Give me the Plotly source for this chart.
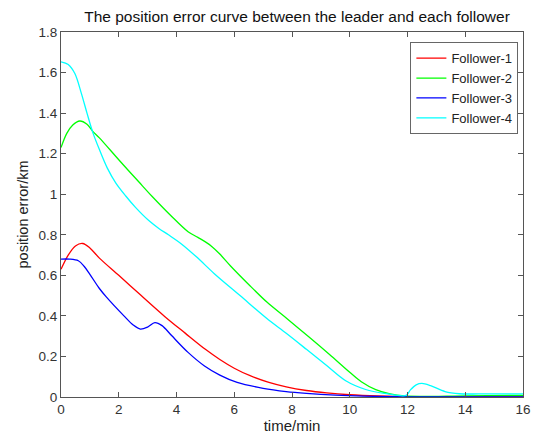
import plotly.graph_objects as go

# Follower-1
t1 = [0, 0.25, 0.5, 0.75, 1.0, 1.33, 2.0, 2.7, 3.61, 4.3, 5.0, 5.5, 6.0, 6.55, 7.2, 7.8, 8.5, 9.2, 10.0, 11.0, 12.0, 14.0, 16.0]
e1 = [0.63, 0.70, 0.745, 0.757, 0.735, 0.685, 0.60, 0.51, 0.395, 0.315, 0.235, 0.185, 0.142, 0.105, 0.072, 0.05, 0.032, 0.02, 0.011, 0.005, 0.002, 0.001, 0.001]

# Follower-2
t2 = [0, 0.2, 0.4, 0.65, 0.9, 1.1, 1.33, 2.0, 2.7, 3.15, 3.8, 4.4, 4.74, 5.0, 5.2, 5.5, 5.88, 6.5, 7.13, 7.82, 8.6, 9.3, 10.0, 10.4, 10.9, 11.4, 11.9, 12.5, 14.0, 16.0]
e2 = [1.23, 1.30, 1.34, 1.361, 1.345, 1.31, 1.278, 1.17, 1.06, 0.99, 0.895, 0.815, 0.787, 0.765, 0.745, 0.705, 0.645, 0.555, 0.468, 0.387, 0.295, 0.21, 0.122, 0.075, 0.036, 0.015, 0.005, 0.003, 0.006, 0.008]

# Follower-3
t3 = [0, 0.3, 0.6, 0.8, 1.0, 1.33, 1.56, 2.18, 2.5, 2.75, 3.0, 3.25, 3.5, 3.83, 4.4, 4.97, 5.5, 6.1, 7.0, 7.8, 8.5, 9.5, 10.5, 12.0, 14.0, 16.0]
e3 = [0.68, 0.68, 0.672, 0.645, 0.605, 0.535, 0.495, 0.40, 0.355, 0.335, 0.345, 0.367, 0.352, 0.303, 0.22, 0.153, 0.108, 0.072, 0.043, 0.027, 0.018, 0.009, 0.004, 0.001, 0.0, 0.0]

# Follower-4
t4 = [0, 0.25, 0.48, 0.7, 0.9, 1.1, 1.33, 1.6, 1.9, 2.25, 2.58, 3.04, 3.4, 3.72, 4.17, 4.7, 5.31, 6.2, 7.13, 7.8, 8.5, 9.2, 9.86, 10.55, 11.2, 11.95, 12.1, 12.3, 12.5, 12.8, 13.3, 13.8, 14.5, 16.0]
e4 = [1.653, 1.64, 1.595, 1.50, 1.40, 1.305, 1.22, 1.13, 1.055, 0.99, 0.935, 0.87, 0.83, 0.80, 0.755, 0.69, 0.608, 0.50, 0.387, 0.314, 0.235, 0.155, 0.08, 0.037, 0.018, 0.008, 0.035, 0.06, 0.067, 0.056, 0.027, 0.016, 0.015, 0.015]

names = ["Follower-1", "Follower-2", "Follower-3", "Follower-4"]
colors = ["#ff0000", "#00ff00", "#0000ff", "#00ffff"]
series = [(t1, e1), (t2, e2), (t3, e3), (t4, e4)]

fig = go.Figure()
for (t, e), name, c in zip(series, names, colors):
    fig.add_trace(go.Scatter(
        x=t, y=e, name=name, mode="lines",
        line=dict(color=c, width=1.3, shape="spline", smoothing=0.9),
    ))

axis_common = dict(
    showline=True, linecolor="#555555", linewidth=1.2, mirror="ticks",
    ticks="inside", ticklen=5, tickcolor="#555555", tickwidth=1,
    showgrid=False, zeroline=False,
    tickfont=dict(size=13.5, color="#333333"),
)

fig.update_layout(
    width=542, height=443,
    margin=dict(l=61, r=11, t=32, b=46),
    paper_bgcolor="white", plot_bgcolor="white",
    font=dict(family="Liberation Sans, Arial, sans-serif", color="#222222"),
    title=dict(
        text="The position error curve between the leader and each follower",
        x=0.548, xanchor="center", y=0.963, yanchor="middle",
        font=dict(size=15.5, color="#111111"),
    ),
    xaxis=dict(range=[0, 16], dtick=2, tick0=0,
               title=dict(text="time/min", standoff=3, font=dict(size=15)),
               **axis_common),
    yaxis=dict(range=[0, 1.8], dtick=0.2, tick0=0,
               title=dict(text="position error/km", standoff=6, font=dict(size=14.5)),
               **axis_common),
    legend=dict(
        x=0.99, xanchor="right", y=0.972, yanchor="top",
        bgcolor="white", bordercolor="#666666", borderwidth=1,
        font=dict(size=13, color="#222222"),
        tracegroupgap=0, itemwidth=30,
    ),
    showlegend=True,
)

fig.write_html("out.html")
